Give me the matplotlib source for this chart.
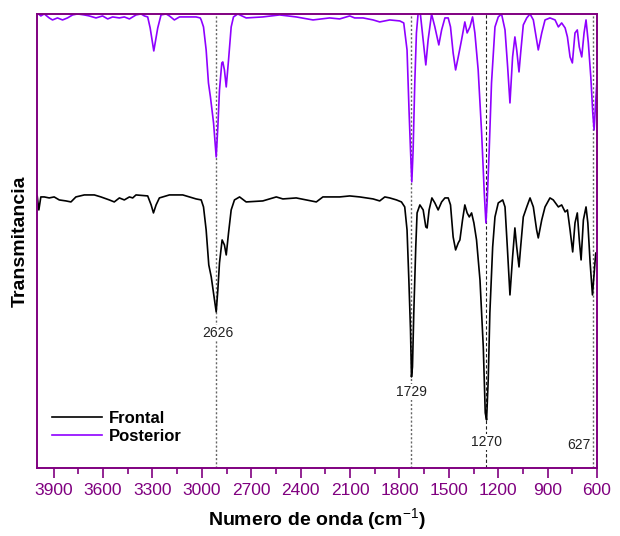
import matplotlib
matplotlib.use("Agg")
import matplotlib.pyplot as plt

plt.rcParams['font.family'] = ['Liberation Sans', 'DejaVu Sans']
plt.rcParams['mathtext.fontset'] = 'custom'
plt.rcParams['mathtext.rm'] = 'Liberation Sans'
plt.rcParams['mathtext.bf'] = 'Liberation Sans:bold'

# spectra (arbitrary transmittance units, offset stacked)
frontal_cm = [4000, 3990, 3978, 3957, 3927, 3897, 3866, 3825, 3795, 3765, 3714, 3653, 3613, 3562,
              3532, 3501, 3471, 3440, 3420, 3400, 3329, 3308, 3294, 3278, 3258, 3197, 3116, 3035,
              3004, 2990, 2974, 2958, 2943, 2929, 2913, 2903, 2893, 2877, 2863, 2852, 2838, 2822,
              2802, 2771, 2731, 2630, 2548, 2508, 2427, 2366, 2305, 2265, 2224, 2163, 2102, 2041,
              1960, 1920, 1889, 1859, 1818, 1788, 1768, 1754, 1743, 1733, 1727, 1721, 1713, 1701,
              1693, 1676, 1656, 1640, 1632, 1620, 1603, 1585, 1565, 1544, 1524, 1504, 1490, 1474,
              1459, 1443, 1433, 1417, 1403, 1389, 1376, 1362, 1348, 1332, 1311, 1291, 1279, 1271,
              1261, 1251, 1234, 1220, 1200, 1173, 1159, 1145, 1129, 1113, 1099, 1088, 1074, 1064,
              1048, 1027, 1007, 987, 967, 957, 936, 916, 886, 866, 835, 815, 794, 780, 764, 748,
              734, 720, 708, 697, 683, 667, 656, 642, 628, 616, 608, 600]
frontal_t = [272, 258, 271, 271, 270, 271, 268, 267, 266, 271, 273, 273, 271, 268,
             266, 270, 268, 271, 270, 273, 272, 263, 255, 263, 270, 273, 273, 269,
             268, 261, 238, 203, 191, 175, 156, 178, 205, 228, 223, 213, 235, 258,
             268, 271, 266, 267, 271, 269, 270, 268, 266, 271, 271, 271, 272, 271,
             269, 267, 271, 270, 268, 266, 261, 238, 188, 138, 91, 101, 155, 221,
             255, 263, 258, 241, 240, 258, 270, 265, 258, 266, 270, 270, 263, 231,
             218, 225, 228, 248, 263, 255, 251, 255, 245, 228, 188, 121, 55, 48,
             88, 155, 221, 251, 265, 268, 261, 221, 173, 211, 240, 221, 201, 221,
             251, 261, 270, 261, 238, 230, 248, 261, 270, 268, 261, 263, 256, 258, 238, 216,
             245, 255, 228, 208, 248, 261, 245, 205, 173, 198, 215, 213]

posterior_cm = [4000, 3992, 3978, 3957, 3927, 3907, 3877, 3846, 3816, 3785, 3755, 3714, 3684, 3643,
                3603, 3572, 3542, 3501, 3471, 3440, 3400, 3369, 3349, 3329, 3314, 3292, 3268, 3248,
                3217, 3197, 3167, 3136, 3075, 3035, 3010, 3004, 2990, 2974, 2960, 2948, 2929, 2913,
                2903, 2893, 2879, 2873, 2863, 2852, 2838, 2822, 2808, 2782, 2731, 2630, 2528, 2427,
                2325, 2224, 2163, 2102, 2072, 2021, 1960, 1920, 1859, 1798, 1774, 1754, 1742, 1733,
                1725, 1717, 1707, 1697, 1687, 1673, 1656, 1640, 1626, 1605, 1585, 1561, 1544, 1524,
                1504, 1490, 1474, 1459, 1443, 1423, 1403, 1389, 1372, 1356, 1342, 1322, 1301, 1285,
                1275, 1267, 1255, 1241, 1220, 1200, 1180, 1159, 1143, 1129, 1113, 1099, 1088, 1074,
                1064, 1048, 1027, 1007, 987, 967, 957, 936, 916, 886, 855, 835, 815, 794, 780, 764,
                750, 734, 720, 708, 693, 679, 667, 653, 638, 626, 618, 608, 602, 600]
posterior_t = [454, 454, 452, 454, 450, 448, 450, 448, 450, 453, 454, 453, 452, 450,
               452, 449, 451, 450, 451, 449, 453, 454, 452, 451, 440, 417, 440, 453,
               454, 452, 448, 451, 451, 451, 450, 448, 441, 418, 385, 371, 345, 311,
               341, 378, 405, 406, 398, 381, 408, 441, 451, 454, 450, 451, 453, 451,
               448, 450, 449, 452, 450, 450, 448, 446, 448, 447, 445, 418, 358, 318,
               286, 318, 385, 435, 454, 454, 428, 403, 428, 454, 441, 423, 438, 450,
               450, 441, 415, 398, 411, 428, 446, 435, 441, 451, 435, 398, 335, 275,
               245, 268, 318, 385, 441, 451, 454, 438, 401, 365, 411, 431, 418, 396,
               415, 443, 450, 454, 448, 428, 418, 435, 448, 450, 448, 441, 445, 440, 431, 411,
               405, 435, 438, 421, 411, 435, 448, 425, 391, 355, 338, 368, 385, 390]

# marked bands: line position, label text, label position
band_cm = [2915, 1729, 1274, 627]
band_text = ['2626', '1729', '1270', '627']
band_label_cm = [2905, 1727, 1271, 640]
band_label_y = [135, 76, 26, 23]

purple = '#800080'

fig = plt.figure(figsize=(6.2, 5.36), dpi=100)
ax = fig.add_axes([0.06, 0.127, 0.903, 0.847])

ax.plot(frontal_cm, frontal_t, color='black', lw=1.2, label='Frontal')
ax.plot(posterior_cm, posterior_t, color='#8F00FF', lw=1.2, label='Posterior')

for i in range(len(band_cm)):
    if band_text[i] == '1270':
        ax.axvline(band_cm[i], color='#222222', lw=0.8, ls=(0, (3, 2)), zorder=0)
    else:
        ax.axvline(band_cm[i], color='#666666', lw=1.0, ls=(0, (1.5, 1.5)), zorder=0)
    ha = 'right' if band_text[i] == '627' else 'center'
    ax.text(band_label_cm[i], band_label_y[i], band_text[i], ha=ha, va='center', fontsize=10,
            color='#222222', bbox=dict(facecolor='white', edgecolor='none', pad=1))

ax.set_xlim(4000, 600)
ax.set_ylim(0, 454)
ax.set_xticks([3900, 3600, 3300, 3000, 2700, 2400, 2100, 1800, 1500, 1200, 900, 600])
ax.set_xticks(range(3750, 599, -300), minor=True)
ax.set_yticks([])
ax.tick_params(axis='x', which='major', length=7, width=1.2, color=purple, labelcolor=purple,
               labelsize=12.5, pad=4)
ax.tick_params(axis='x', which='minor', length=4, width=1.2, color=purple)
for s in ax.spines.values():
    s.set_color(purple)
    s.set_linewidth(1.4)

ax.set_xlabel(r'Numero de onda (cm$^{-1}$)', fontsize=14, fontweight='bold', labelpad=6)
ax.set_ylabel('Transmitancia', fontsize=14, fontweight='bold', labelpad=6)

ax.legend(loc='lower left', bbox_to_anchor=(0.0, 0.02), frameon=False, handlelength=3.0,
          handletextpad=0.4, labelspacing=0.2, prop={'weight': 'bold', 'size': 12})

fig.savefig('out.png', dpi=100)
